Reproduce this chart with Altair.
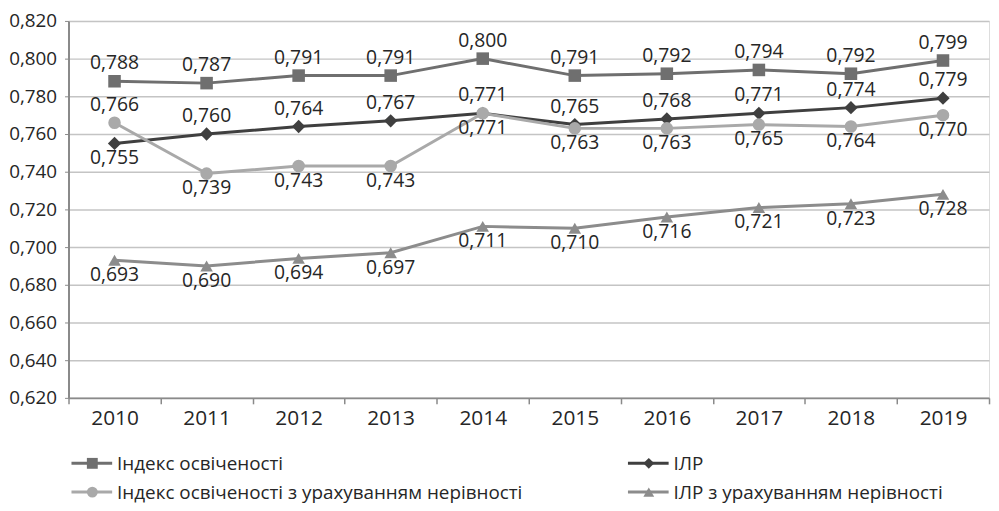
import altair as alt
import pandas as pd

years = [2010, 2011, 2012, 2013, 2014, 2015, 2016, 2017, 2018, 2019]
edu = [0.788, 0.787, 0.791, 0.791, 0.800, 0.791, 0.792, 0.794, 0.792, 0.799]
hdi = [0.755, 0.760, 0.764, 0.767, 0.771, 0.765, 0.768, 0.771, 0.774, 0.779]
edu_ineq = [0.766, 0.739, 0.743, 0.743, 0.771, 0.763, 0.763, 0.765, 0.764, 0.770]
hdi_ineq = [0.693, 0.690, 0.694, 0.697, 0.711, 0.710, 0.716, 0.721, 0.723, 0.728]
y_ticks = [0.62, 0.64, 0.66, 0.68, 0.70, 0.72, 0.74, 0.76, 0.78, 0.80, 0.82]

names = ["Індекс освіченості", "ІЛР",
         "Індекс освіченості з урахуванням нерівності", "ІЛР з урахуванням нерівності"]
series_values = [edu, hdi, edu_ineq, hdi_ineq]
colors = ["#6f6f6f", "#3f3f3f", "#a9a9a9", "#8c8c8c"]
shapes = ["square", "diamond", "circle", "triangle-up"]

rows = []
for i, (n, vals) in enumerate(zip(names, series_values)):
    for y, v in zip(years, vals):
        rows.append({"year": str(y), "value": v, "series": n, "order": i})
df = pd.DataFrame(rows)

FONT = "Open Sans"
W, H = 928, 380

x_enc = alt.X("year:O", title=None,
              scale=alt.Scale(paddingInner=0, paddingOuter=0),
              axis=alt.Axis(labelAngle=0, labelFontSize=21, labelColor="#262626",
                            labelFont=FONT, labelPadding=4, tickBand="extent",
                            tickSize=6, tickColor="#8a8a8a", tickWidth=1.5,
                            domainColor="#8a8a8a", domainWidth=2, grid=False))
y_enc = alt.Y("value:Q", title=None,
              scale=alt.Scale(domain=[0.62, 0.82], nice=False, zero=False),
              axis=alt.Axis(values=y_ticks,
                            labelExpr="replace(format(datum.value, '.3f'), '.', ',')",
                            labelFontSize=19, labelColor="#262626", labelFont=FONT,
                            labelPadding=8, tickSize=4, tickColor="#8a8a8a",
                            domainColor="#8a8a8a", domainWidth=2, labelFlush=False,
                            gridColor="#c4c4c4", gridWidth=1.5))

base = alt.Chart(df).encode(x=x_enc, y=y_enc)

layers = []
for i, n in enumerate(names):
    sub = base.transform_filter(alt.datum.series == n)
    line = sub.mark_line(color=colors[i], strokeWidth=3)
    pts = sub.mark_point(filled=True, opacity=1, color=colors[i], shape=shapes[i],
                         size=160 if shapes[i] != "diamond" else 180)
    layers += [line, pts]

labels = base.transform_calculate(
    label="replace(format(datum.value, '.3f'), '.', ',')",
    below="(datum.series == 'ІЛР' && datum.year == '2010') || datum.series == 'ІЛР з урахуванням нерівності' || (datum.series == 'Індекс освіченості з урахуванням нерівності' && datum.year != '2010')"
)
lab_above = labels.transform_filter("!datum.below").mark_text(
    font=FONT, fontSize=19.5, color="#262626", dy=-18, baseline="middle").encode(text="label:N")
lab_below = labels.transform_filter("datum.below").mark_text(
    font=FONT, fontSize=19.5, color="#262626", dy=15, baseline="middle").encode(text="label:N")

# legend (manual, two columns)
leg_x0 = [3, 564, 3, 564]
leg_y = [446, 446, 475, 475]
leg_layers = []
for i, n in enumerate(names):
    ld = pd.DataFrame({"series": [n]})
    lc = alt.Chart(ld)
    leg_layers.append(lc.mark_rule(color=colors[i], strokeWidth=3).encode(
        x=alt.value(leg_x0[i]), x2=alt.value(leg_x0[i] + 41), y=alt.value(leg_y[i])))
    leg_layers.append(lc.mark_point(filled=True, opacity=1, color=colors[i],
                                    shape=shapes[i], size=120).encode(
        x=alt.value(leg_x0[i] + 21), y=alt.value(leg_y[i])))
    leg_layers.append(lc.mark_text(font=FONT, fontSize=19, color="#262626",
                                   align="left", baseline="middle").encode(
        x=alt.value(leg_x0[i] + 46), y=alt.value(leg_y[i] + 1), text="series:N"))

chart = alt.layer(*layers, lab_above, lab_below, *leg_layers).properties(
    width=W, height=H,
    autosize=alt.AutoSizeParams(type="none"),
    padding={"left": 61, "top": 11, "right": 2, "bottom": 112},
).configure_view(stroke=None).configure(background="white")

chart.save("out.html", embed_options={"renderer": "svg", "actions": False})
